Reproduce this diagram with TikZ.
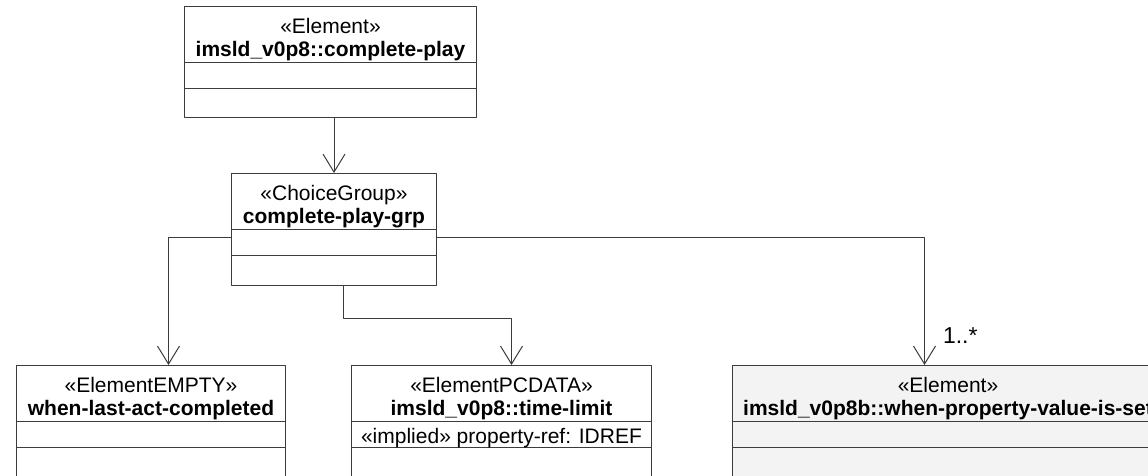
\documentclass[tikz,border=0pt]{standalone}
\usepackage{fontspec}
\setmainfont{Liberation Sans}
\usetikzlibrary{calc,arrows.meta,positioning}
\definecolor{umlline}{HTML}{3C3C3C}
\definecolor{umlfill}{HTML}{F3F3F3}

\begin{document}
\begin{tikzpicture}[x=1pt, y=-1pt, >={Straight Barb[length=18pt,width=22pt]}, line join=round,
    classbox/.style={draw=umlline, fill=white, line width=1pt, inner sep=0pt, anchor=north west},
    stereo/.style={anchor=base, inner sep=0pt, font=\fontsize{21}{24}\selectfont},
    cname/.style={stereo, font=\fontsize{21}{24}\selectfont\bfseries},
    mult/.style={anchor=base west, inner sep=0pt, xshift=18pt, yshift=22pt, font=\fontsize{23}{26}\selectfont},
    assoc/.style={draw=umlline, line width=1pt, ->}]
  \clip (0,0) rectangle (1148,475);
  \fill[white] (0,0) rectangle (1148,475);

  % classes
  \node[classbox, minimum width=292pt, minimum height=111pt] (play) at (184,6) {};
  \node[classbox, minimum width=205pt, minimum height=112pt] (grp) at (231,173) {};
  \node[classbox, minimum width=269pt, minimum height=125pt] (empty) at (16,365) {};
  \node[classbox, minimum width=300pt, minimum height=125pt] (pcdata) at (351,365) {};
  \node[classbox, fill=umlfill, minimum width=431pt, minimum height=125pt] (setbox) at (732,365) {};

  % compartments
  \foreach \c in {play,grp,empty,pcdata,setbox}
    \draw[umlline, line width=1pt] ($(\c.north west)+(0,56)$) -- ($(\c.north east)+(0,56)$)
      ($(\c.north west)+(0,82)$) -- ($(\c.north east)+(0,82)$);

  \node[stereo] (playst) at ($(play.north)+(0,27)$) {«Element»};
  \node[cname] (playnm) at ($(play.north)+(0,50)$) {imsld\_v0p8::complete-play};
  \node[stereo] (grpst) at ($(grp.north)+(0,27)$) {«ChoiceGroup»};
  \node[cname] (grpnm) at ($(grp.north)+(0,50)$) {complete-play-grp};
  \node[stereo] (emptyst) at ($(empty.north)+(0,27)$) {«ElementEMPTY»};
  \node[cname] (emptynm) at ($(empty.north)+(0,50)$) {when-last-act-completed};
  \node[stereo] (pcdatast) at ($(pcdata.north)+(0,27)$) {«ElementPCDATA»};
  \node[cname] (pcdatanm) at ($(pcdata.north)+(0,50)$) {imsld\_v0p8::time-limit};
  \node[stereo] (pcdataat) at ($(pcdata.north)+(0,78)$) {«implied» property-ref: IDREF};
  \node[stereo] (setst) at ($(setbox.north)+(0,27)$) {«Element»};
  \node[cname] (setnm) at ($(setbox.north)+(0,50)$) {imsld\_v0p8b::when-property-value-is-set};

  % associations
  \draw[assoc] (play.south -| grp.north) -- (grp.north);
  \draw[assoc] ([yshift=-8pt]grp.west) -| ([xshift=17.5pt]empty.north);
  \draw[assoc] ([xshift=9.5pt]grp.south) -- ++(0,32) -| ([xshift=10pt]pcdata.north);
  \draw[assoc] ([yshift=-8pt]grp.east) -| ([xshift=-23.5pt]setbox.north) node[mult] {1..*};
\end{tikzpicture}
\end{document}
